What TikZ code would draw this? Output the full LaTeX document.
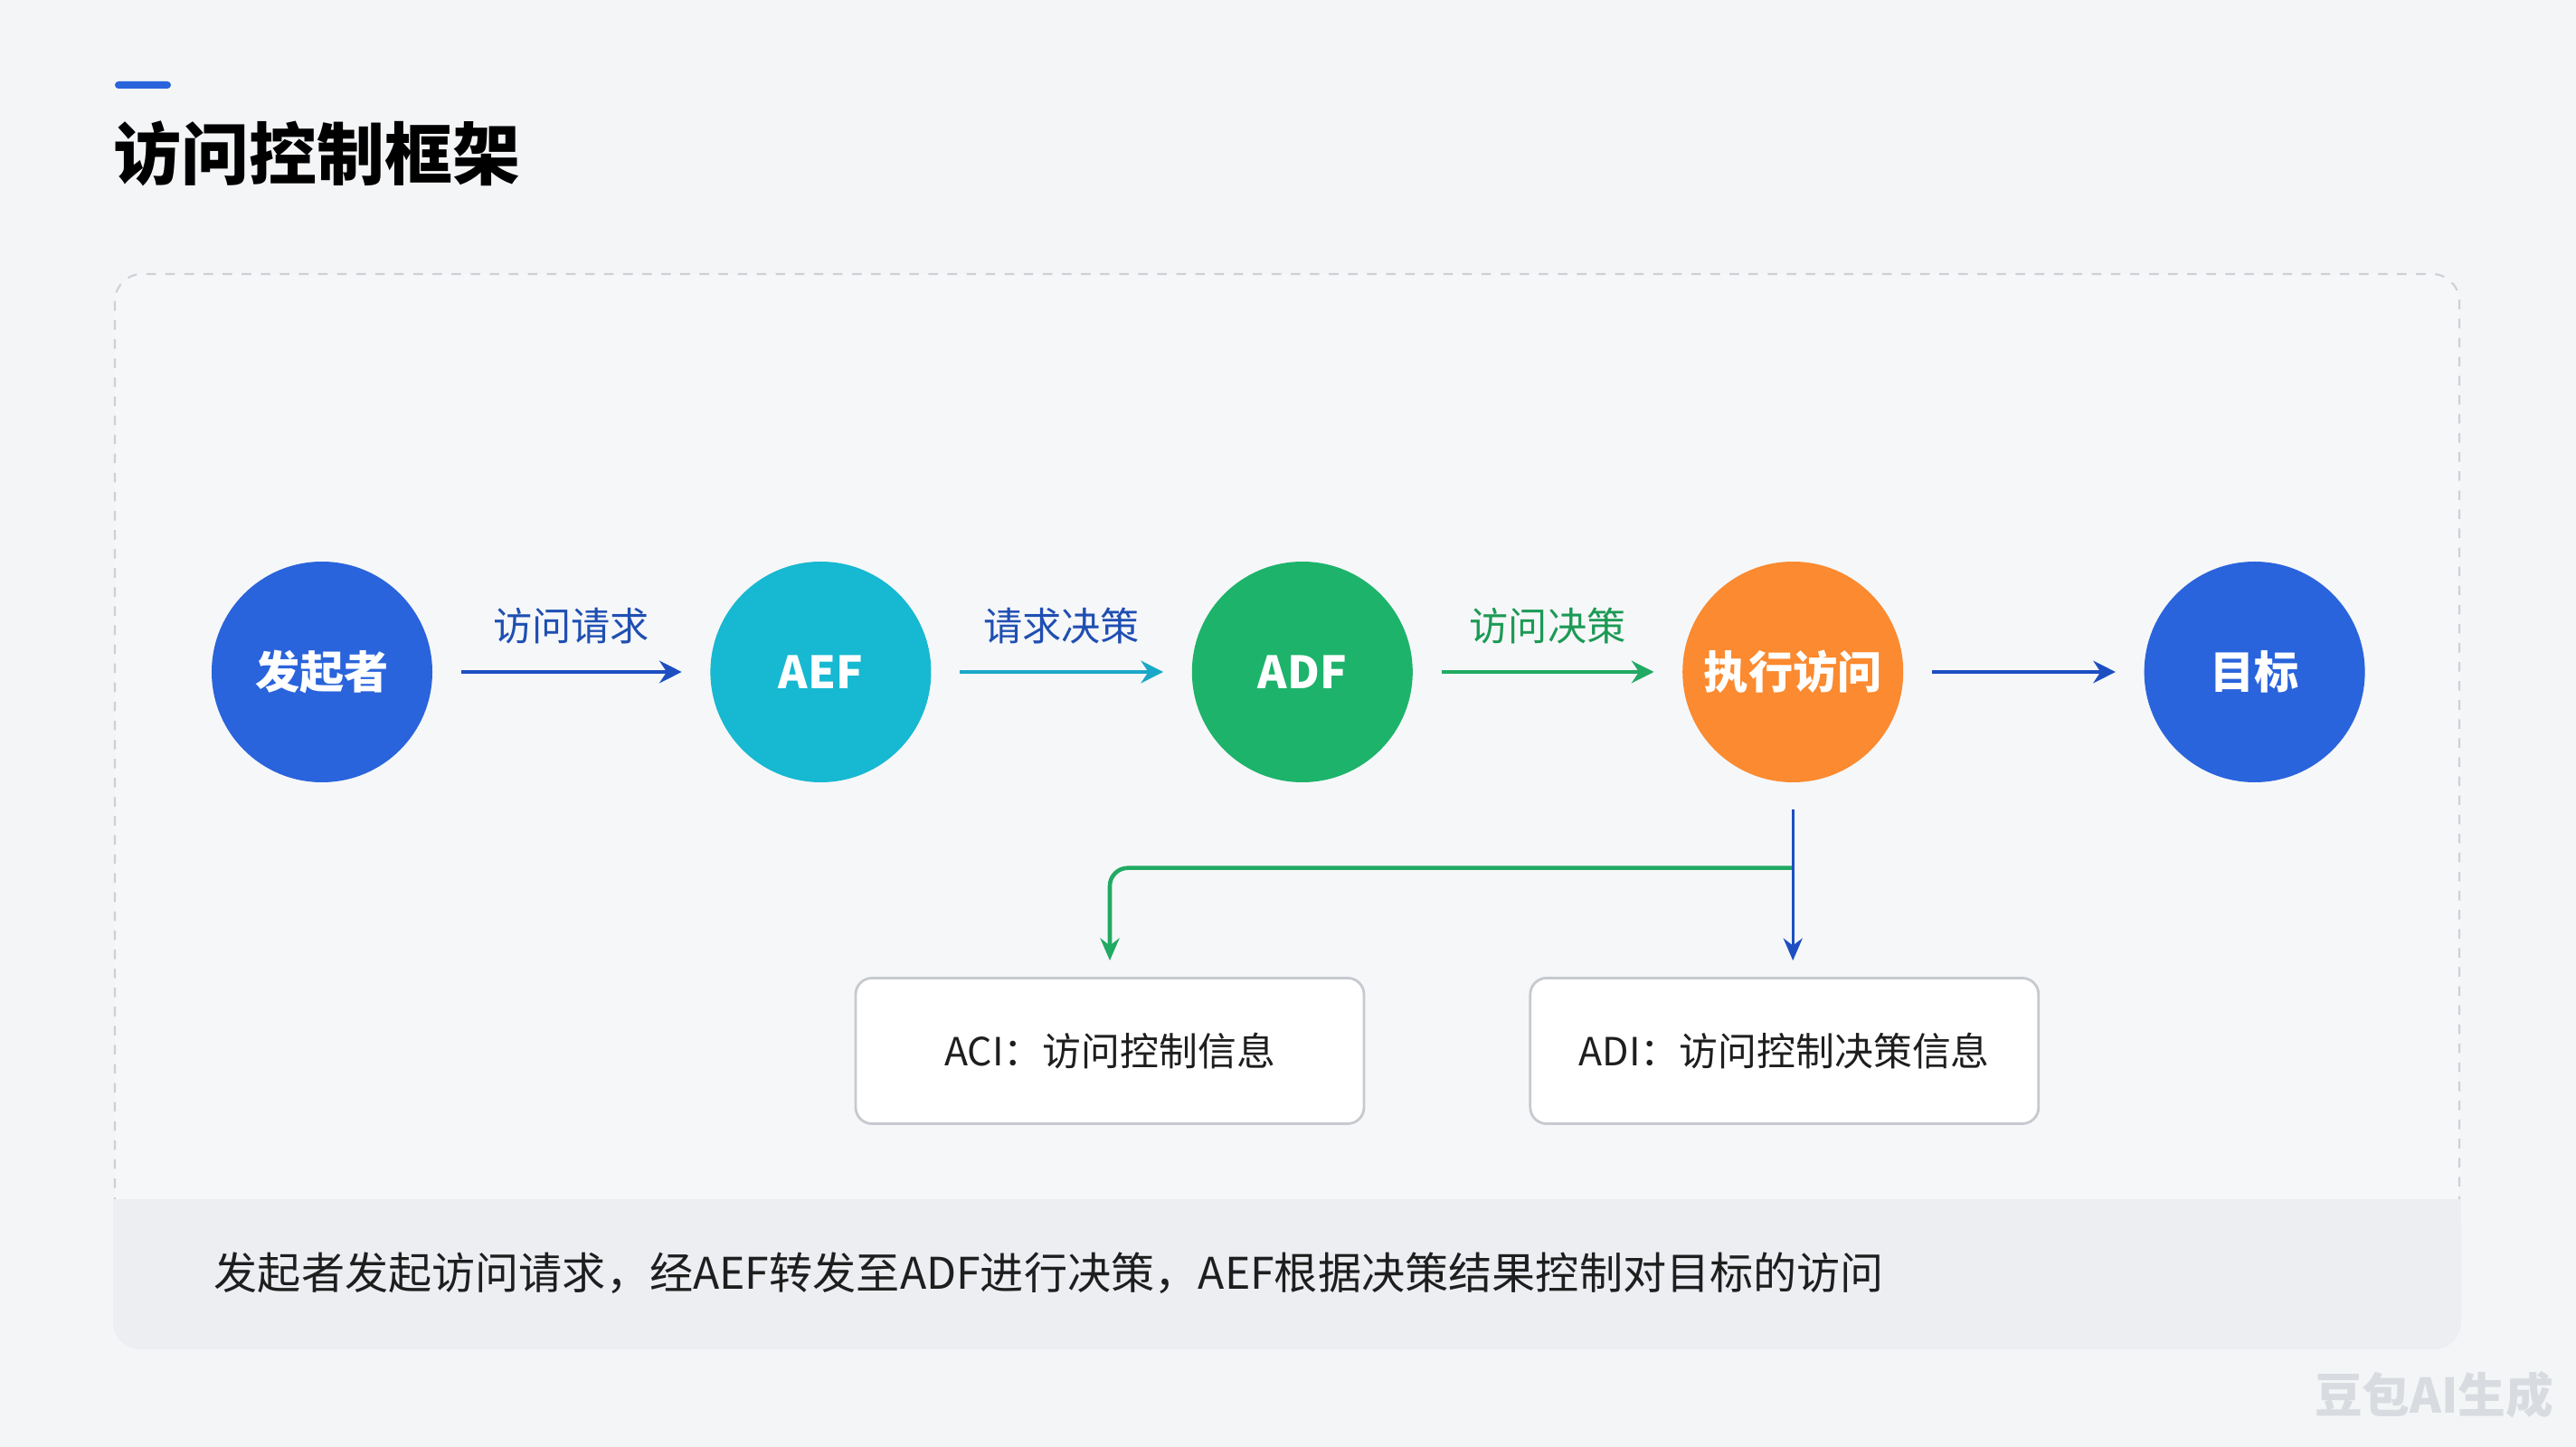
\documentclass[tikz,border=0pt]{standalone}
\usepackage{fontspec}
\setmainfont{Noto Sans CJK SC}
\usetikzlibrary{positioning,arrows.meta}

\definecolor{bgcol}{HTML}{F3F5F7}
\definecolor{panelcol}{HTML}{F6F7F9}
\definecolor{framecol}{HTML}{CDD1D6}
\definecolor{bandcol}{HTML}{ECEEF2}
\definecolor{boxline}{HTML}{C6CACF}
\definecolor{textcol}{HTML}{1E1E1E}
\definecolor{bluefill}{HTML}{2A64DC}
\definecolor{cyanfill}{HTML}{17B8D1}
\definecolor{greenfill}{HTML}{1DB36B}
\definecolor{orangefill}{HTML}{FB8A30}
\definecolor{darkblue}{HTML}{1D4FC2}
\definecolor{cyanline}{HTML}{1BA8C8}
\definecolor{greenline}{HTML}{21AA63}
\definecolor{greentext}{HTML}{1C9A55}
\definecolor{bluetext}{HTML}{1F4FB2}
\definecolor{markcol}{HTML}{D8DBDF}

\begin{document}
\begin{tikzpicture}[
	stage/.style={circle, minimum size=2.44cm, inner sep=0pt, text=white, font=\bfseries\fontsize{14}{14}\selectfont},
	info/.style={rectangle, rounded corners=1.8mm, draw=boxline, fill=white, line width=0.8pt, minimum width=5.62cm, minimum height=1.61cm, text=textcol, font=\fontsize{12.2}{12}\selectfont},
	flow/.style={line width=1.4pt, -{Stealth[length=7pt,width=7pt]}, shorten <=0.31cm, shorten >=0.31cm},
	tag/.style={font=\fontsize{12.3}{12}\selectfont}
]
% background and panel
\fill[bgcol] (0,0) rectangle (28.48,-16);
\draw[framecol, dashed, line width=0.6pt, fill=panelcol, rounded corners=0.3cm] (1.27,-3.03) rectangle (27.19,-14.9);
\fill[bandcol, rounded corners=0.3cm] (1.25,-13.26) rectangle (27.21,-14.92);
\fill[bandcol] (1.25,-13.26) rectangle (27.21,-13.8);

% title
\fill[bluefill, rounded corners=0.04cm] (1.27,-0.90) rectangle (1.89,-0.98);
\node[anchor=west, inner sep=0pt, text=black, font=\bfseries\fontsize{21.3}{22}\selectfont] (title) at (1.25,-1.70) {访问控制框架};

% main chain
\node[stage, fill=bluefill] (source) at (3.56,-7.43) {发起者};
\node[stage, fill=cyanfill] (aef) [right=3.06cm of source] {AEF};
\node[stage, fill=greenfill] (adf) [right=2.87cm of aef] {ADF};
\node[stage, fill=orangefill] (exec) [right=2.97cm of adf] {执行访问};
\node[stage, fill=bluefill] (target) [right=2.65cm of exec] {目标};

% information boxes
\node[info] (aci) at (12.27,-11.62) {ACI：访问控制信息};
\node[info] (adi) [right=1.81cm of aci] {ADI：访问控制决策信息};
\coordinate[below=0.94cm of exec] (split);

\draw[flow, darkblue] (source) -- (aef) node[tag, midway, yshift=0.51cm, text=bluetext] {访问请求};
\draw[flow, cyanline] (aef) -- (adf) node[tag, midway, yshift=0.51cm, text=bluetext] {请求决策};
\draw[flow, greenline] (adf) -- (exec) node[tag, midway, yshift=0.51cm, text=greentext] {访问决策};
\draw[flow, darkblue] (exec) -- (target);

\draw[greenline, line width=1.3pt, rounded corners=0.2cm, -{Stealth[length=7pt,width=6pt]}, shorten >=0.18cm] (split) -| (aci.north);
\draw[darkblue, line width=0.9pt, -{Stealth[length=7pt,width=6pt]}, shorten <=0.29cm, shorten >=0.18cm] (exec.south) -- (exec.south |- adi.north);

% summary line
\node[anchor=west, inner sep=0pt, text=textcol, font=\fontsize{13.7}{14}\selectfont] (summary) at (2.36,-14.08) {发起者发起访问请求，经AEF转发至ADF进行决策，AEF根据决策结果控制对目标的访问};

\node[anchor=east, inner sep=0pt, text=markcol, font=\bfseries\fontsize{15}{15}\selectfont] (mark) at (28.24,-15.42) {豆包AI生成};
\end{tikzpicture}
\end{document}
